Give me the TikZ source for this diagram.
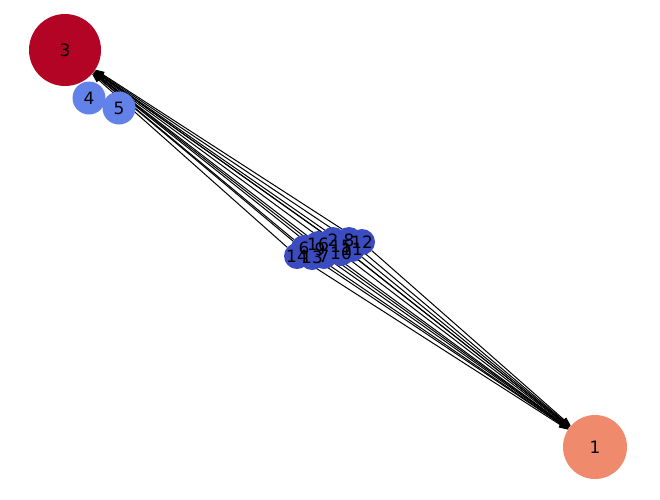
\documentclass[tikz,border=0pt]{standalone}
\usepackage{fontspec}
\setmainfont{DejaVu Sans}
\usetikzlibrary{arrows.meta}
\pgfdeclarelayer{bg}
\pgfsetlayers{bg,main}
\definecolor{cred}{HTML}{B40426}
\definecolor{csalmon}{HTML}{EF8B6C}
\definecolor{clight}{HTML}{6282EA}
\definecolor{cdark}{HTML}{3B4CC0}
\tikzset{
  vtx/.style={circle,inner sep=0pt,draw=none},
  lbl/.style={inner sep=0pt,font=\fontsize{17}{17}\selectfont},
  edge/.style={line width=1pt,-{Triangle[length=9pt,width=6pt]}},
}
\begin{document}
\begin{tikzpicture}[x=1pt,y=-1pt]
\useasboundingbox (0,0) rectangle (660,499);
% nodes
\node[vtx,fill=cred,minimum size=72pt] (n3) at (65,50) {};
\node[vtx,fill=csalmon,minimum size=64pt] (n1) at (595,447) {};
\node[vtx,fill=clight,minimum size=33pt] (n4) at (89,98) {};
\node[vtx,fill=clight,minimum size=33pt] (n5) at (119,108) {};
\foreach \n/\x/\y in {6/304/248,16/318/244,2/333/240,8/349/240,12/362/242,9/320/249,15/341/246,11/352/249,14/297/256,13/312/257,7/324/256,10/341/253}{
  \node[vtx,fill=cdark,minimum size=26pt] (n\n) at (\x,\y) {};
}
% edges
\begin{pgfonlayer}{bg}
\foreach \n in {2,6,7,8,9,10,11,12,13,14,15,16}{
  \draw[edge] (n\n) -- (n3);
  \draw[edge] (n\n) -- (n1);
}
\end{pgfonlayer}
% labels
\foreach \n in {1,3,4,5,6,16,2,8,12,9,15,11,14,13,7,10}{
  \node[lbl] at (n\n) {\n};
}
\end{tikzpicture}
\end{document}
